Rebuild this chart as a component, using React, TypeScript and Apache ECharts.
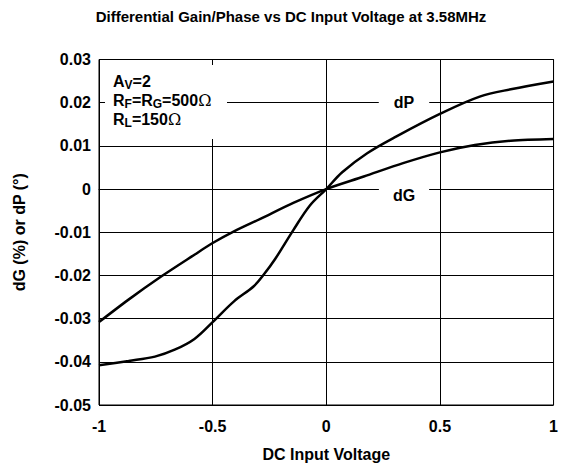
import React, { useEffect, useRef } from "react";
import * as echarts from "echarts";

const titleText = "Differential Gain/Phase vs DC Input Voltage at 3.58MHz";
const xAxisName = "DC Input Voltage";
const yAxisName = "dG (%) or dP (°)";

const dgX = [-1, -0.87, -0.725, -0.58, -0.5, -0.406, -0.29, -0.145, 0, 0.165, 0.338, 0.5, 0.654, 0.812, 1];
const dgY = [-0.0308, -0.0256, -0.0202, -0.0152, -0.0125, -0.0098, -0.0069, -0.0032, 0, 0.0029, 0.006, 0.0085, 0.0102, 0.0112, 0.0116];

const dpX = [-1, -0.87, -0.754, -0.667, -0.58, -0.5, -0.406, -0.319, -0.275, -0.225, -0.145, -0.072, 0, 0.07, 0.18, 0.309, 0.5, 0.675, 0.812, 1];
const dpY = [-0.0408, -0.0398, -0.0388, -0.0372, -0.0347, -0.0308, -0.026, -0.0225, -0.0198, -0.0162, -0.0095, -0.0038, 0, 0.0039, 0.0083, 0.0122, 0.0174, 0.0214, 0.0231, 0.0249];

const FONT = "'Liberation Sans', Arial, Helvetica, sans-serif";

export default function App() {
  const ref = useRef<HTMLDivElement>(null);
  useEffect(() => {
    if (!ref.current) return;
    const chart = echarts.init(ref.current, null, { renderer: "svg" });
    const sub = { fontSize: 12, fontWeight: "bold", fontFamily: FONT, color: "#000", padding: [7, 0, 0, 0] };
    const main = { fontSize: 16, fontWeight: "bold", fontFamily: FONT, color: "#000" };
    const omega = { fontSize: 16, fontFamily: "'DejaVu Serif', serif", color: "#000" };
    const axisFont = { fontSize: 16, fontWeight: "bold", fontFamily: FONT, color: "#000" };
    chart.setOption({
      animation: false,
      backgroundColor: "#fff",
      title: {
        text: titleText,
        left: 286,
        textAlign: "center",
        top: 4,
        textStyle: { fontSize: 15, fontWeight: "bold", fontFamily: FONT, color: "#000" },
      },
      grid: {
        left: 99,
        right: 2,
        top: 59.5,
        bottom: 66,
        show: true,
        borderColor: "#000",
        borderWidth: 1,
        backgroundColor: "transparent",
      },
      xAxis: {
        type: "value",
        min: -1,
        max: 1,
        interval: 0.5,
        name: xAxisName,
        nameLocation: "middle",
        nameGap: 41,
        nameTextStyle: axisFont,
        axisLine: { show: true, lineStyle: { color: "#000", width: 1 } },
        axisTick: { show: false },
        axisLabel: { ...axisFont, margin: 13 },
        splitLine: { show: true, lineStyle: { color: "#000", width: 1 } },
      },
      yAxis: {
        type: "value",
        min: -0.05,
        max: 0.03,
        interval: 0.01,
        name: yAxisName,
        nameLocation: "middle",
        nameGap: 72,
        nameRotate: 90,
        nameTextStyle: axisFont,
        axisLine: { show: true, lineStyle: { color: "#000", width: 1 } },
        axisTick: { show: false },
        axisLabel: {
          ...axisFont,
          margin: 8,
          formatter: (v: number) => String(Math.round(v * 100) / 100),
        },
        splitLine: { show: true, lineStyle: { color: "#000", width: 1 } },
      },
      graphic: [
        {
          type: "rect",
          z: 50,
          shape: { x: 105, y: 65, width: 122, height: 74 },
          style: { fill: "#fff" },
        },
        {
          type: "text",
          z: 51,
          x: 113,
          y: 72,
          style: {
            text: "{m|A}{s|V}{m|=2}",
            rich: { m: main, s: sub },
          },
        },
        {
          type: "text",
          z: 51,
          x: 113,
          y: 91,
          style: {
            text: "{m|R}{s|F}{m|=R}{s|G}{m|=500}{o|Ω}",
            rich: { m: main, s: sub, o: omega },
          },
        },
        {
          type: "text",
          z: 51,
          x: 113,
          y: 110,
          style: {
            text: "{m|R}{s|L}{m|=150}{o|Ω}",
            rich: { m: main, s: sub, o: omega },
          },
        },
        {
          type: "text",
          z: 51,
          x: 404,
          y: 102,
          style: {
            text: "dP",
            align: "center",
            verticalAlign: "middle",
            fontSize: 16,
            fontWeight: "bold",
            fontFamily: FONT,
            fill: "#000",
            backgroundColor: "#fff",
            padding: [2, 15, 2, 15],
          },
        },
        {
          type: "text",
          z: 51,
          x: 404,
          y: 195,
          style: {
            text: "dG",
            align: "center",
            verticalAlign: "middle",
            fontSize: 16,
            fontWeight: "bold",
            fontFamily: FONT,
            fill: "#000",
            backgroundColor: "#fff",
            padding: [2, 14, 2, 14],
          },
        },
      ],
      series: [
        {
          name: "dG",
          type: "line",
          data: dgX.map((x, i) => [x, dgY[i]]),
          smooth: 0.3,
          symbol: "none",
          lineStyle: { color: "#000", width: 2.5 },
          z: 10,
        },
        {
          name: "dP",
          type: "line",
          data: dpX.map((x, i) => [x, dpY[i]]),
          smooth: 0.35,
          symbol: "none",
          lineStyle: { color: "#000", width: 2.5 },
          z: 10,
        },
      ],
    });
    return () => chart.dispose();
  }, []);
  return <div ref={ref} style={{ width: 561, height: 471, position: "absolute", left: 0, top: 0 }} />;
}
